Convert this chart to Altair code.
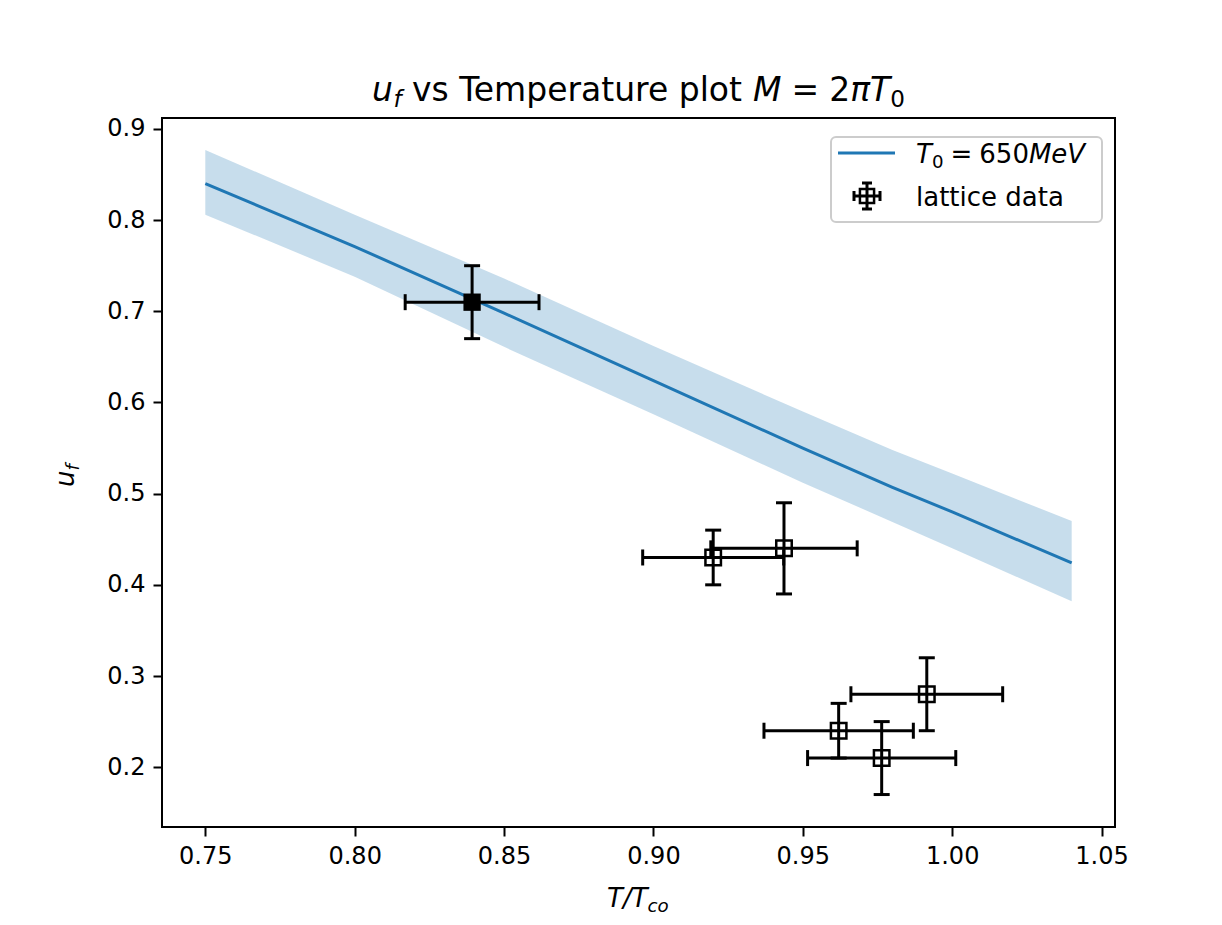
import altair as alt
import pandas as pd

# ---- data ----
T_curve = [0.75, 0.80, 0.85, 0.90, 0.95, 0.98, 1.00, 1.04]
u_curve = [0.840, 0.771, 0.698, 0.624, 0.550, 0.507, 0.480, 0.424]
u_upper = [0.877, 0.806, 0.736, 0.662, 0.590, 0.548, 0.522, 0.470]
u_lower = [0.806, 0.738, 0.661, 0.587, 0.512, 0.469, 0.440, 0.382]

lat_T = [0.8393, 0.9200, 0.9437, 0.9620, 0.9764, 0.9915]
lat_u = [0.71, 0.43, 0.44, 0.24, 0.21, 0.28]
lat_Terr = [0.0224, 0.0236, 0.0245, 0.0250, 0.0248, 0.0254]
lat_uerr = [0.04, 0.03, 0.05, 0.03, 0.04, 0.04]
lat_filled = [True, False, False, False, False, False]

x_ticks = [0.75, 0.80, 0.85, 0.90, 0.95, 1.00, 1.05]
y_ticks = [0.2, 0.3, 0.4, 0.5, 0.6, 0.7, 0.8, 0.9]

curve = pd.DataFrame({"T": T_curve, "u": u_curve, "lo": u_lower, "hi": u_upper})
lat = pd.DataFrame({"T": lat_T, "u": lat_u, "Terr": lat_Terr, "uerr": lat_uerr,
                    "filled": lat_filled})
lat["xlo"] = lat["T"] - lat["Terr"]
lat["xhi"] = lat["T"] + lat["Terr"]
lat["ylo"] = lat["u"] - lat["uerr"]
lat["yhi"] = lat["u"] + lat["uerr"]

W, H = 953, 709
FONT = "DejaVu Sans"
BLUE = "#1f77b4"

xs = alt.Scale(domain=[0.7355, 1.0545], nice=False, zero=False)
ys = alt.Scale(domain=[0.1344, 0.912], nice=False, zero=False)
xaxis = alt.Axis(values=x_ticks, format=".2f", title=None, grid=False, domain=False,
                 tickColor="black", tickWidth=2, tickSize=9, labelPadding=8,
                 labelFont=FONT, labelFontSize=24, labelColor="black", labelFlush=False)
yaxis = alt.Axis(values=y_ticks, format=".1f", title=None, grid=False, domain=False,
                 tickColor="black", tickWidth=2, tickSize=9, labelPadding=8,
                 labelFont=FONT, labelFontSize=24, labelColor="black", labelFlush=False)


def X(f):
    return alt.X(f, type="quantitative", scale=xs, axis=xaxis)


def Y(f):
    return alt.Y(f, type="quantitative", scale=ys, axis=yaxis)


band = alt.Chart(curve).mark_area(color=BLUE, opacity=0.25).encode(
    x=X("T"), y=Y("lo"), y2="hi")
line = alt.Chart(curve).mark_line(color=BLUE, strokeWidth=3).encode(x=X("T"), y=Y("u"))

hbar = alt.Chart(lat).mark_rule(color="black", strokeWidth=3).encode(
    x=X("xlo"), x2="xhi", y=Y("u"))
vbar = alt.Chart(lat).mark_rule(color="black", strokeWidth=3).encode(
    x=X("T"), y=Y("ylo"), y2="yhi")
xcaps = alt.Chart(lat).transform_fold(["xlo", "xhi"], as_=["end", "xe"]).mark_tick(
    orient="vertical", thickness=3, size=16, color="black", opacity=1).encode(
    x=X("xe"), y=Y("u"))
ycaps = alt.Chart(lat).transform_fold(["ylo", "yhi"], as_=["end", "ye"]).mark_tick(
    orient="horizontal", thickness=3, size=16, color="black", opacity=1).encode(
    x=X("T"), y=Y("ye"))
open_sq = alt.Chart(lat).transform_filter("!datum.filled").mark_point(
    shape="square", size=240, filled=False, stroke="black", strokeWidth=2.5, opacity=1).encode(
    x=X("T"), y=Y("u"))
fill_sq = alt.Chart(lat).transform_filter("datum.filled").mark_square(
    size=300, color="black", opacity=1).encode(x=X("T"), y=Y("u"))

one = pd.DataFrame({"a": [0]})


def txt(s, x, y, size, italic=False, angle=0, align="left", baseline="alphabetic"):
    kw = dict(font=FONT, fontSize=size, color="black", align=align, baseline=baseline,
              angle=angle)
    if italic:
        kw["fontStyle"] = "italic"
    return alt.Chart(one).mark_text(**kw).encode(
        x=alt.value(x), y=alt.value(y), text=alt.value(s))


def rule(x1, x2, y1, y2, color="black", w=3):
    return alt.Chart(one).mark_rule(color=color, strokeWidth=w).encode(
        x=alt.value(x1), x2=alt.value(x2), y=alt.value(y1), y2=alt.value(y2))


# ---- title: u_f vs Temperature plot M = 2πT_0 ----
TS = 33
tb = -17
title = [
    txt("u", 210, tb, TS, italic=True),
    txt("f", 231.5, tb + 6, TS * 0.7, italic=True),
    txt("vs Temperature plot", 250, tb, TS),
    txt("M", 591, tb, TS, italic=True),
    txt("=", 629.5, tb, TS),
    txt("2", 667.2, tb, TS),
    txt("πT", 688.2, tb, TS, italic=True),
    txt("0", 728.2, tb + 6, TS * 0.7),
]

# ---- axis titles ----
LS = 26
axis_titles = [
    txt("T/T", 445, 789, LS, italic=True),
    txt("co", 485.5, 794, LS * 0.7, italic=True),
    txt("u", -88, 369, LS, italic=True, angle=270),
    txt("f", -83, 352.5, LS * 0.7, italic=True, angle=270),
]

# ---- legend ----
legend_box = alt.Chart(one).mark_rect(fill="white", fillOpacity=0.8, stroke="#cccccc",
                                      strokeWidth=2, cornerRadius=5).encode(
    x=alt.value(669), x2=alt.value(940), y=alt.value(19), y2=alt.value(104))
legend = [
    legend_box,
    rule(676, 733, 35, 35, color=BLUE, w=3),
    txt("T", 754, 45, LS, italic=True),
    txt("0", 769.9, 50, LS * 0.7),
    txt("=", 788.5, 45, LS),
    txt("650", 817.3, 45, LS),
    txt("MeV", 866.9, 45, LS, italic=True),
    rule(692, 718, 78, 78),
    rule(705, 705, 65, 91),
    rule(692, 692, 73, 83),
    rule(718, 718, 73, 83),
    rule(700, 710, 65, 65),
    rule(700, 710, 91, 91),
    alt.Chart(one).mark_point(shape="square", size=200, filled=False, stroke="black",
                              strokeWidth=2.5, opacity=1).encode(
        x=alt.value(705), y=alt.value(78)),
    txt("lattice data", 754, 88, LS),
]

chart = alt.layer(
    band, line, hbar, vbar, xcaps, ycaps, open_sq, fill_sq, *legend, *title, *axis_titles
).properties(
    width=W, height=H,
    autosize=alt.AutoSizeParams(type="none"),
    padding={"left": 154, "top": 110, "right": 80, "bottom": 90},
    background="white",
).configure_view(stroke="black", strokeWidth=2)

chart.save("out.html", embed_options={"renderer": "svg", "actions": False})
